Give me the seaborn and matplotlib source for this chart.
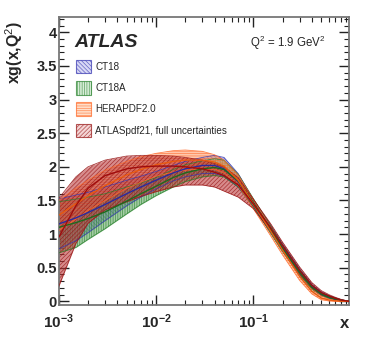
import numpy as np
import pandas as pd
import matplotlib
matplotlib.use("Agg")
import matplotlib.pyplot as plt
import seaborn as sns
from matplotlib.patches import Patch
from matplotlib.ticker import LogLocator, MultipleLocator, FixedLocator, NullFormatter

# ---------------- data ----------------
x = [1e-3, 1.5e-3, 2e-3, 3e-3, 5e-3, 7e-3, 1e-2, 1.5e-2, 2e-2, 3e-2, 4e-2, 5e-2,
     7e-2, 0.1, 0.15, 0.2, 0.3, 0.4, 0.5, 0.6, 0.7, 0.8, 0.9, 0.97]

ct18_c  = [1.15, 1.24, 1.32, 1.44, 1.60, 1.70, 1.80, 1.91, 1.97, 2.02, 2.02, 1.97, 1.78, 1.46, 1.08, 0.80, 0.44, 0.22, 0.11, 0.060, 0.035, 0.015, 0.005, 0.0]
ct18_lo = [0.78, 0.90, 1.02, 1.20, 1.42, 1.55, 1.67, 1.79, 1.85, 1.90, 1.90, 1.86, 1.70, 1.41, 1.03, 0.75, 0.40, 0.19, 0.09, 0.045, 0.025, 0.010, 0.002, 0.0]
ct18_hi = [1.52, 1.58, 1.62, 1.70, 1.80, 1.86, 1.93, 2.02, 2.08, 2.14, 2.17, 2.14, 1.90, 1.52, 1.13, 0.85, 0.48, 0.25, 0.14, 0.085, 0.050, 0.025, 0.010, 0.002]

ct18a_c  = [1.10, 1.17, 1.23, 1.33, 1.49, 1.60, 1.71, 1.84, 1.91, 1.97, 1.99, 1.96, 1.79, 1.47, 1.08, 0.79, 0.43, 0.21, 0.11, 0.060, 0.035, 0.015, 0.005, 0.0]
ct18a_lo = [0.72, 0.80, 0.92, 1.08, 1.30, 1.44, 1.57, 1.70, 1.78, 1.85, 1.87, 1.85, 1.70, 1.41, 1.02, 0.74, 0.39, 0.18, 0.085, 0.045, 0.025, 0.010, 0.002, 0.0]
ct18a_hi = [1.48, 1.52, 1.55, 1.60, 1.70, 1.76, 1.84, 1.96, 2.03, 2.09, 2.12, 2.10, 1.89, 1.53, 1.13, 0.84, 0.47, 0.24, 0.13, 0.080, 0.050, 0.025, 0.010, 0.002]

hera_c  = [1.28, 1.45, 1.57, 1.72, 1.88, 1.96, 2.03, 2.08, 2.10, 2.10, 2.07, 2.01, 1.80, 1.45, 1.05, 0.76, 0.37, 0.15, 0.05, 0.020, 0.008, 0.003, 0.001, 0.0]
hera_lo = [1.05, 1.22, 1.35, 1.50, 1.68, 1.77, 1.86, 1.92, 1.95, 1.97, 1.96, 1.91, 1.72, 1.38, 0.98, 0.69, 0.31, 0.11, 0.025, 0.006, 0.002, 0.001, 0.0, 0.0]
hera_hi = [1.50, 1.68, 1.80, 1.95, 2.08, 2.15, 2.20, 2.24, 2.25, 2.23, 2.18, 2.10, 1.88, 1.52, 1.11, 0.82, 0.42, 0.19, 0.08, 0.035, 0.015, 0.006, 0.002, 0.0]

atlas_c  = [0.95, 1.42, 1.68, 1.87, 1.97, 2.00, 2.01, 2.01, 2.00, 1.97, 1.92, 1.87, 1.73, 1.45, 1.10, 0.83, 0.46, 0.24, 0.13, 0.080, 0.045, 0.020, 0.007, 0.001]
atlas_lo = [0.22, 0.86, 1.16, 1.36, 1.48, 1.56, 1.63, 1.70, 1.73, 1.73, 1.70, 1.64, 1.55, 1.38, 1.05, 0.78, 0.41, 0.20, 0.10, 0.060, 0.030, 0.012, 0.003, 0.0]
atlas_hi = [1.53, 1.85, 2.00, 2.10, 2.16, 2.17, 2.17, 2.16, 2.14, 2.10, 2.05, 2.00, 1.84, 1.52, 1.16, 0.88, 0.51, 0.28, 0.16, 0.100, 0.060, 0.030, 0.011, 0.002]

labels = ["CT18", "CT18A", "HERAPDF2.0", "ATLASpdf21, full uncertainties"]
y_ticks = [0, 0.5, 1, 1.5, 2, 2.5, 3, 3.5, 4]
y_tick_labels = ["0", "0.5", "1", "1.5", "2", "2.5", "3", "3.5", "4"]
x_ticks = [1e-3, 1e-2, 1e-1]
x_tick_labels = [r"$\mathbf{10^{-3}}$", r"$\mathbf{10^{-2}}$", r"$\mathbf{10^{-1}}$"]

# ---------------- style ----------------
sns.set_theme(style="ticks")
plt.rcParams["font.family"] = ["Liberation Sans", "DejaVu Sans"]
plt.rcParams["mathtext.fontset"] = "custom"
plt.rcParams["mathtext.rm"] = "Liberation Sans"
plt.rcParams["mathtext.bf"] = "Liberation Sans:bold"
plt.rcParams["mathtext.it"] = "Liberation Sans:italic"
plt.rcParams["hatch.linewidth"] = 0.5

specs = [
    # name, c, lo, hi, fill, hatchcol, hatch, linecol, legend fill
    (labels[0], ct18_c, ct18_lo, ct18_hi, "#7070d0", "#3434b0", "\\" * 8, "#2a2aa0", "#c8c8f2"),
    (labels[1], ct18a_c, ct18a_lo, ct18a_hi, "#62a862", "#25802a", "|" * 7, "#1d6b1d", "#c8e6c8"),
    (labels[2], hera_c, hera_lo, hera_hi, "#ffa070", "#ff6624", "-" * 7, "#e85a10", "#ffd2b4"),
    (labels[3], atlas_c, atlas_lo, atlas_hi, "#bb3838", "#961212", "/" * 8, "#a00c0c", "#f0c4c4"),
]

rows = []
for name, c, lo, hi, *_ in specs:
    for xi, ci in zip(x, c):
        rows.append({"x": xi, "xg": ci, "pdf": name})
df = pd.DataFrame(rows)

fig = plt.figure(figsize=(3.68, 3.64), dpi=100)
ax = fig.add_axes([0.1595, 0.161, 0.7895, 0.791])

for name, c, lo, hi, fcol, hcol, hatch, lcol, _ in specs:
    ax.fill_between(x, lo, hi, facecolor=fcol, alpha=0.58, linewidth=0, zorder=2)
    ax.fill_between(x, lo, hi, facecolor="none", edgecolor=hcol, hatch=hatch,
                    linewidth=0, alpha=0.75, zorder=2)
    ax.plot(x, lo, color=hcol, lw=0.6, alpha=0.8, zorder=3)
    ax.plot(x, hi, color=hcol, lw=0.6, alpha=0.8, zorder=3)

palette = {s[0]: s[7] for s in specs}
sns.lineplot(data=df, x="x", y="xg", hue="pdf", palette=palette, ax=ax,
             linewidth=1.0, legend=False, zorder=4)

ax.set_xscale("log")
ax.set_xlim(1e-3, 0.97)
ax.set_ylim(-0.06, 4.22)
ax.set_xlabel("")
ax.set_ylabel("")

ax.yaxis.set_major_locator(FixedLocator(y_ticks))
ax.set_yticklabels(y_tick_labels, fontsize=10.5, fontweight="bold")
ax.yaxis.set_minor_locator(MultipleLocator(0.1))
ax.xaxis.set_major_locator(FixedLocator(x_ticks))
ax.set_xticklabels(x_tick_labels, fontsize=11)
ax.xaxis.set_minor_locator(LogLocator(base=10, subs=np.arange(2, 10)))
ax.xaxis.set_minor_formatter(NullFormatter())

ax.tick_params(which="both", direction="in", top=True, right=True, color="#222222")
ax.tick_params(which="major", length=7.5, width=1.0)
ax.tick_params(which="minor", length=3.8, width=0.8)
ax.tick_params(axis="y", which="major", pad=1.5)
ax.tick_params(axis="x", which="major", pad=5)
for sp in ax.spines.values():
    sp.set_color("#777777")
    sp.set_linewidth(1.3)

# texts
fig.text(14 / 368, 1 - 52 / 364, "xg(x,Q$^2$)", rotation=90, ha="center", va="center",
         fontsize=11.5, fontweight="bold")
fig.text(345 / 368, 1 - 323 / 364, "x", ha="center", va="center", fontsize=12, fontweight="bold")
fig.text(74 / 368, 1 - 47 / 364, "ATLAS", ha="left", va="baseline", fontsize=14,
         fontweight="bold", fontstyle="italic")
fig.text(250 / 368, 1 - 47 / 364, "Q$^2$ = 1.9 GeV$^2$", ha="left", va="baseline", fontsize=8.3)

handles = [Patch(facecolor=s[8], edgecolor=s[5], hatch=s[6], alpha=0.7, linewidth=0.8,
                 label=s[0]) for s in specs]
leg = ax.legend(handles=handles, loc="upper left", bbox_to_anchor=(0.045, 0.867),
                frameon=False, fontsize=7.1, handlelength=1.55, handleheight=1.75,
                labelspacing=0.78, handletextpad=0.45, borderaxespad=0)

fig.savefig("out.png", dpi=100)
